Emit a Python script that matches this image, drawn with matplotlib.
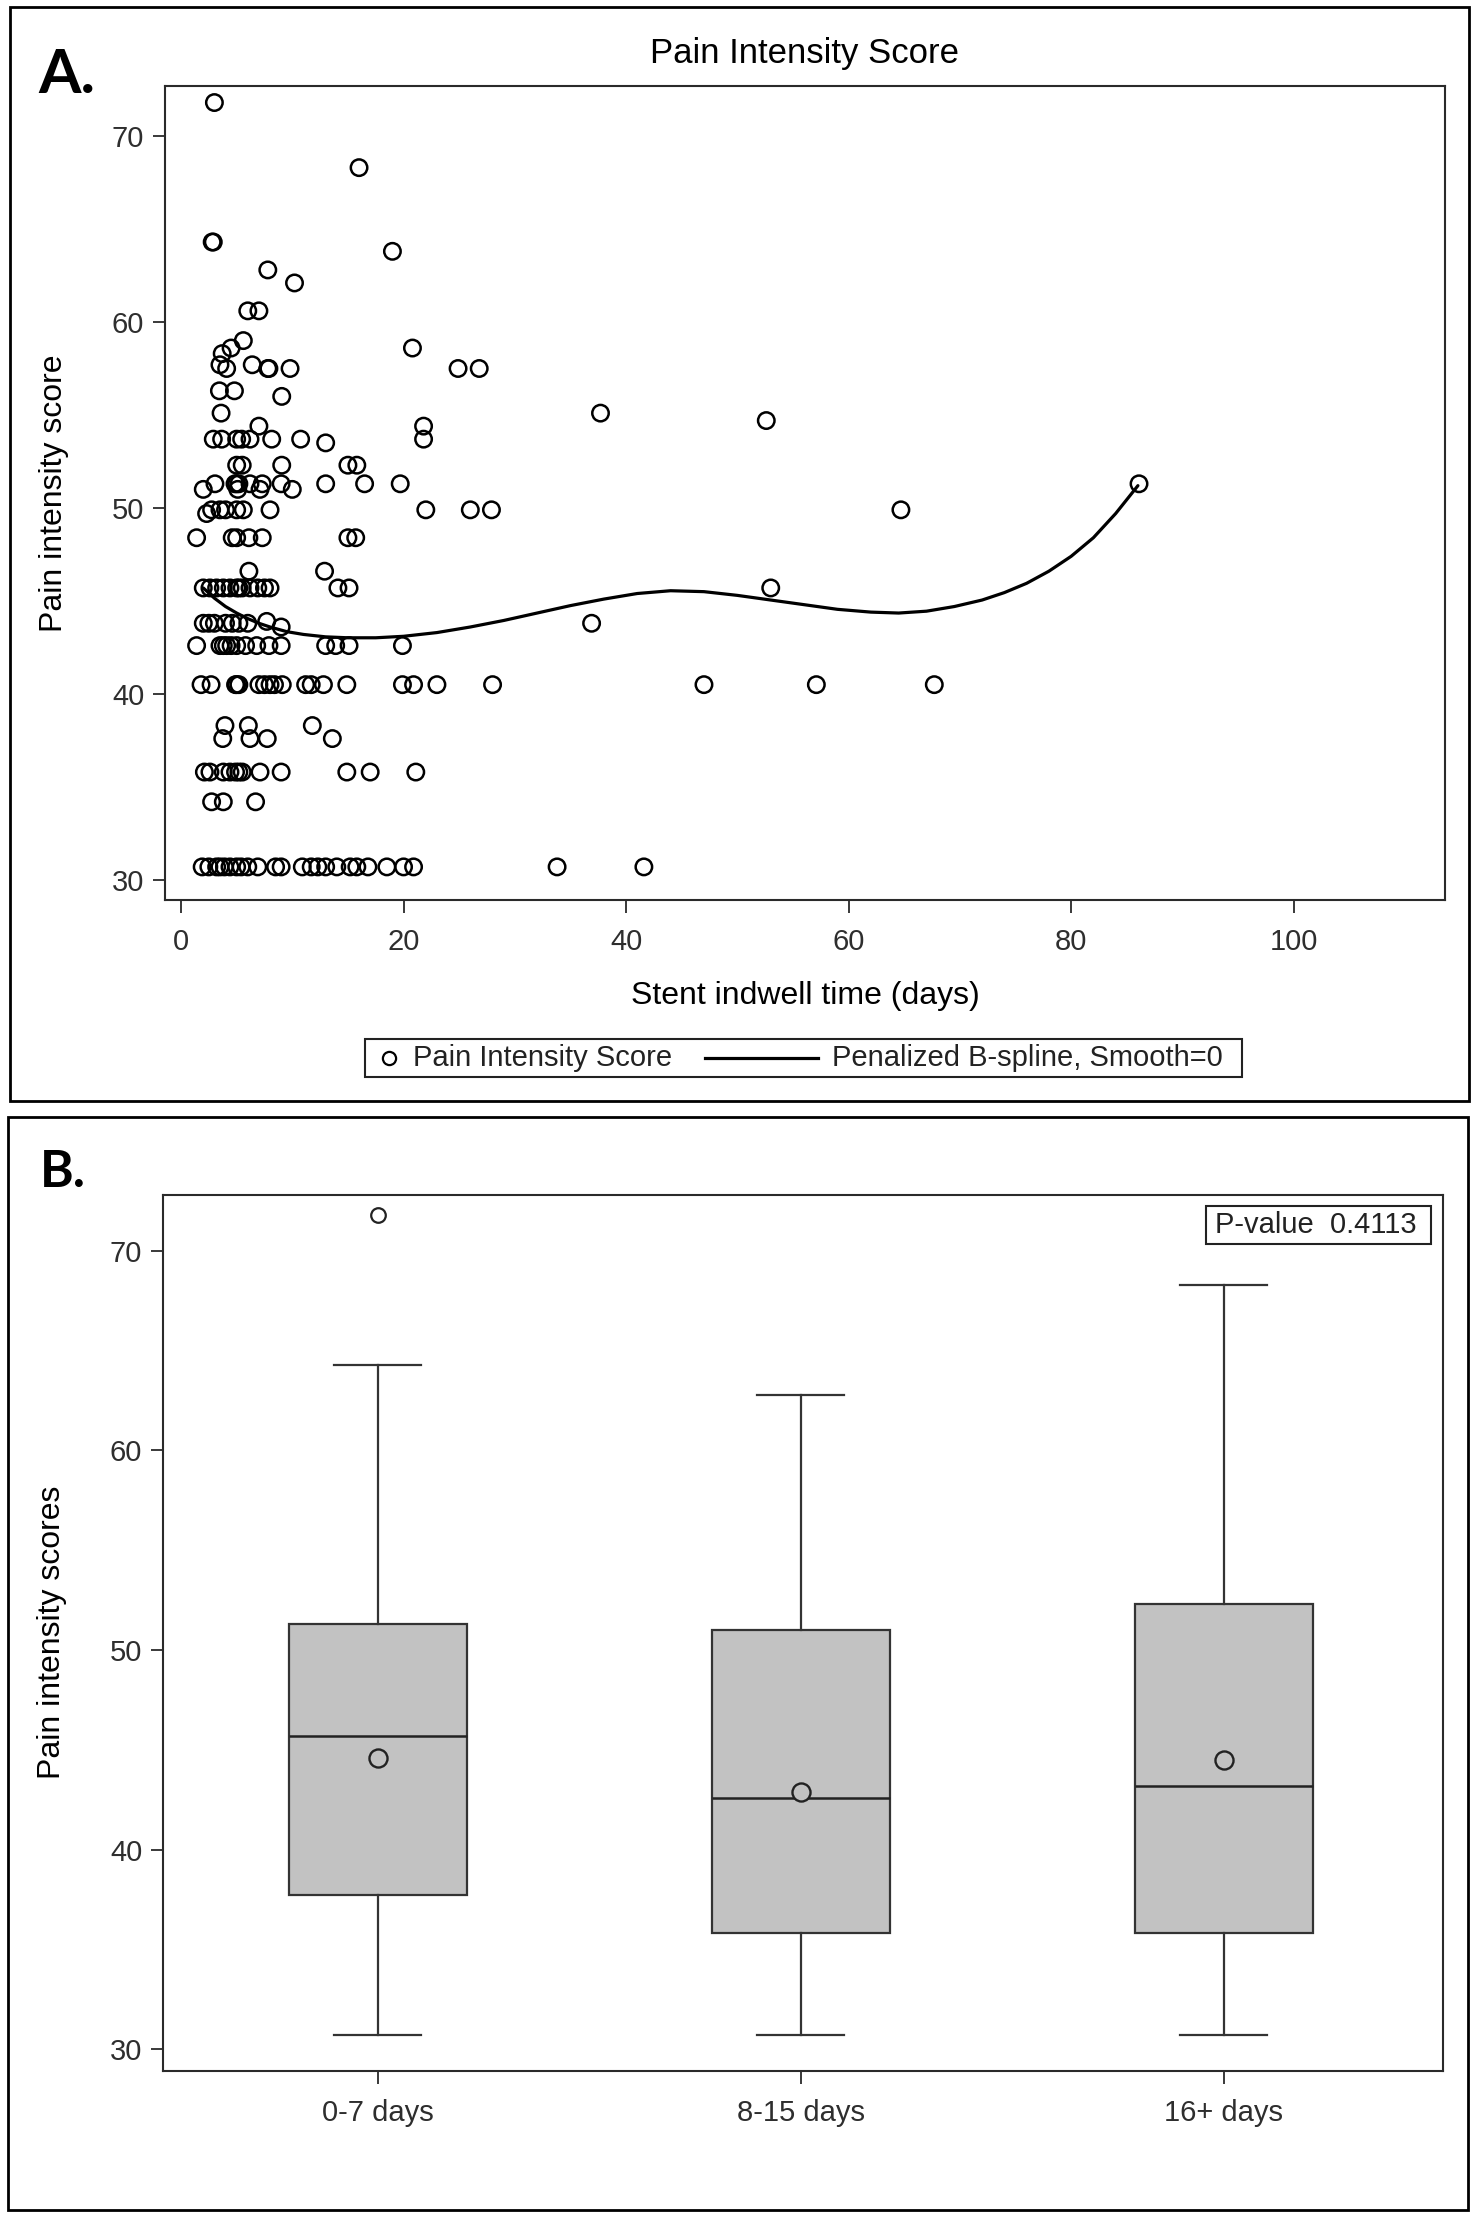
import matplotlib
matplotlib.use('Agg')
import matplotlib.pyplot as plt
from matplotlib.lines import Line2D
from matplotlib.patches import Rectangle
import numpy as np

plt.rcParams['font.family'] = ['Liberation Sans', 'DejaVu Sans']

# ---------------- Panel A data: (stent indwell days, pain intensity score) ----------------
score_rows = [71.8, 68.3, 64.3, 63.8, 62.8, 62.1, 60.6, 59.0, 58.6, 58.3, 57.7, 57.5,
              56.3, 56.0, 55.1, 54.7, 54.4, 53.7, 53.5, 52.3, 51.3, 51.0, 49.9, 49.7,
              48.4, 46.6, 45.7, 43.9, 43.8, 43.6, 42.6, 40.5, 38.3, 37.6, 35.8, 34.2, 30.7]
days_rows = [
    [3.0],
    [16.0],
    [2.8, 2.9],
    [19.0],
    [7.8],
    [10.2],
    [6.0, 7.0],
    [5.6],
    [4.5, 20.8],
    [3.7],
    [3.5, 6.4],
    [4.1, 7.8, 7.9, 9.8, 24.9, 26.8],
    [3.45, 4.8],
    [9.05],
    [3.6, 37.7],
    [52.6],
    [7.0, 21.8],
    [2.9, 3.65, 5.0, 5.45, 6.2, 8.15, 10.75, 21.8],
    [13.0],
    [5.0, 5.5, 9.05, 15.0, 15.8],
    [3.05, 4.85, 5.0, 5.2, 6.2, 7.3, 9.0, 13.0, 16.5, 19.7, 86.1],
    [2.0, 5.1, 7.1, 10.0],
    [2.75, 3.5, 4.0, 5.0, 5.6, 8.0, 22.0, 26.0, 27.9, 64.7],
    [2.3],
    [1.4, 4.6, 5.0, 6.1, 7.3, 15.0, 15.7],
    [6.1, 12.9],
    [2.0, 2.6, 3.2, 3.8, 4.4, 5.0, 5.2, 5.5, 6.2, 6.9, 7.5, 8.0, 14.1, 15.1, 53.0],
    [7.7],
    [2.0, 2.5, 3.0, 4.0, 4.6, 5.2, 6.0, 36.9],
    [9.0],
    [1.4, 3.5, 3.8, 4.1, 4.5, 5.0, 5.8, 6.8, 7.9, 9.0, 13.0, 13.9, 15.1, 19.9],
    [1.8, 2.7, 4.9, 5.0, 5.2, 7.0, 7.5, 8.0, 8.4, 9.1, 11.2, 11.7, 12.8, 14.9, 19.9,
     20.9, 23.0, 28.0, 47.0, 57.1, 67.7],
    [3.95, 6.05, 11.8],
    [3.75, 6.2, 7.75, 13.6],
    [2.1, 2.6, 3.8, 4.4, 4.9, 5.2, 5.5, 7.1, 9.0, 14.9, 17.0, 21.1],
    [2.75, 3.8, 6.7],
    [1.9, 2.5, 3.2, 3.5, 3.9, 4.4, 5.0, 5.4, 6.0, 6.9, 8.5, 9.0, 10.9, 11.7, 12.3, 13.0,
     14.0, 15.2, 15.8, 16.8, 18.5, 20.0, 20.9, 33.8, 41.6],
]

# Penalized B-spline curve
curve_days = [2.0, 3.0, 4.0, 5.0, 6.0, 7.0, 8.0, 9.5, 11.0, 13.0, 15.0, 17.5, 20.0,
              23.0, 26.0, 29.0, 32.0, 35.0, 38.0, 41.0, 44.0, 47.0, 50.0, 53.0, 56.0,
              59.0, 62.0, 64.5, 67.0, 69.5, 72.0, 74.0, 76.0, 78.0, 80.0, 82.0, 84.0, 86.0]
curve_scores = [45.7, 45.15, 44.7, 44.35, 44.05, 43.8, 43.6, 43.35, 43.2, 43.07, 43.02,
                43.02, 43.1, 43.3, 43.6, 43.95, 44.35, 44.75, 45.1, 45.4, 45.55, 45.5,
                45.3, 45.05, 44.8, 44.55, 44.4, 44.35, 44.45, 44.7, 45.05, 45.45, 45.95,
                46.6, 47.4, 48.4, 49.7, 51.2]

x_ticks_a = [0, 20, 40, 60, 80, 100]
y_ticks = [30, 40, 50, 60, 70]

# ---------------- Panel B data ----------------
groups = ['0-7 days', '8-15 days', '16+ days']
q1 = [37.7, 35.8, 35.8]
medians = [45.7, 42.6, 43.2]
q3 = [51.3, 51.0, 52.3]
whisker_low = [30.7, 30.7, 30.7]
whisker_high = [64.3, 62.8, 68.3]
means = [44.6, 42.9, 44.5]
outliers = [[71.8], [], []]
p_value = '0.4113'

# ---------------- Figure ----------------
W, H = 1478, 2219
fig = plt.figure(figsize=(W / 100, H / 100), dpi=100)


def fx(px):
    return px / W


def fy(py):
    return 1 - py / H


TICKC = '#2e2e2e'
SPINEC = '#2a2a2a'

# panel frames
for (x0, y0, x1, y1) in [(10, 7, 1469, 1101), (8, 1117, 1468, 2210)]:
    fig.add_artist(Rectangle((fx(x0), fy(y1)), fx(x1) - fx(x0), fy(y0) - fy(y1),
                             transform=fig.transFigure, fill=False,
                             edgecolor='black', linewidth=2.0))

# ---------------- Panel A ----------------
axA = fig.add_axes([fx(165), fy(900), fx(1445) - fx(165), (900 - 86) / H])
xs = [d for row in days_rows for d in row]
ys = [s for s, row in zip(score_rows, days_rows) for _ in row]
axA.scatter(xs, ys, s=140, facecolors='none', edgecolors='black', linewidths=1.8, zorder=3)
axA.plot(curve_days, curve_scores, color='black', lw=2.3, zorder=4,
         solid_joinstyle='round', solid_capstyle='round')
axA.set_xlim(-1.44, 113.6)
axA.set_ylim(28.92, 72.69)
axA.set_xticks(x_ticks_a)
axA.set_yticks(y_ticks)
axA.tick_params(axis='both', direction='out', length=9, width=1.3, colors=SPINEC,
                labelcolor=TICKC, labelsize=21)
axA.tick_params(axis='x', pad=11)
axA.tick_params(axis='y', pad=6)
for sp in axA.spines.values():
    sp.set_color(SPINEC)
    sp.set_linewidth(1.5)

fig.text(fx(805), fy(53), 'Pain Intensity Score', ha='center', va='center', fontsize=25)
fig.text(fx(805), fy(996), 'Stent indwell time (days)', ha='center', va='center', fontsize=23)
fig.text(fx(54), fy(493), 'Pain intensity score', ha='center', va='center', rotation=90,
         fontsize=23)
fig.text(fx(38), fy(93), 'A.', ha='left', va='baseline', fontsize=44, fontweight='bold',
         family=['Lato', 'Liberation Sans', 'DejaVu Sans'])

# manual legend
fig.add_artist(Rectangle((fx(365), fy(1077)), fx(1242) - fx(365), fy(1039) - fy(1077),
                         transform=fig.transFigure, fill=False, edgecolor='#222222',
                         linewidth=1.5))
fig.add_artist(Line2D([fx(389)], [fy(1058)], marker='o', markersize=9.5,
                      markerfacecolor='none', markeredgecolor='black', markeredgewidth=1.6,
                      transform=fig.transFigure))
fig.text(fx(413), fy(1058), 'Pain Intensity Score', ha='left', va='center', fontsize=21,
         color='#222222')
fig.add_artist(Line2D([fx(705), fx(818)], [fy(1058), fy(1058)], color='black', lw=2.3,
                      transform=fig.transFigure))
fig.text(fx(832), fy(1058), 'Penalized B-spline, Smooth=0', ha='left', va='center',
         fontsize=21, color='#222222')

# ---------------- Panel B ----------------
axB = fig.add_axes([fx(163), fy(2071), fx(1443) - fx(163), (2071 - 1195) / H])
stats = []
for i, g in enumerate(groups):
    stats.append(dict(label=g, q1=q1[i], med=medians[i], q3=q3[i],
                      whislo=whisker_low[i], whishi=whisker_high[i], mean=means[i],
                      fliers=np.array(outliers[i])))
axB.bxp(stats, positions=[0, 1, 2], widths=0.42, capwidths=0.206, showmeans=True,
        patch_artist=True,
        boxprops=dict(facecolor='#c2c2c2', edgecolor='#333333', linewidth=1.6),
        medianprops=dict(color='#222222', linewidth=1.8),
        whiskerprops=dict(color='#333333', linewidth=1.6),
        capprops=dict(color='#333333', linewidth=1.6),
        meanprops=dict(marker='o', markerfacecolor='#c2c2c2', markeredgecolor='#222222',
                       markersize=13, markeredgewidth=1.7),
        flierprops=dict(marker='o', markerfacecolor='none', markeredgecolor='#222222',
                        markersize=10.5, markeredgewidth=1.6))
axB.set_xlim(-0.508, 2.518)
axB.set_ylim(28.9, 72.8)
axB.set_yticks(y_ticks)
axB.set_xticks([0, 1, 2])
axB.set_xticklabels(groups)
axB.tick_params(axis='both', direction='out', length=9, width=1.3, colors=SPINEC,
                labelcolor=TICKC, labelsize=21)
axB.tick_params(axis='x', pad=11)
axB.tick_params(axis='y', pad=6)
for sp in axB.spines.values():
    sp.set_color(SPINEC)
    sp.set_linewidth(1.5)

fig.text(fx(52), fy(1632), 'Pain intensity scores', ha='center', va='center', rotation=90,
         fontsize=23)
fig.text(fx(40), fy(1187), 'B.', ha='left', va='baseline', fontsize=37, fontweight='bold',
         family=['Lato', 'Liberation Sans', 'DejaVu Sans'])

# P-value box
fig.add_artist(Rectangle((fx(1206), fy(1244)), fx(1431) - fx(1206), fy(1206) - fy(1244),
                         transform=fig.transFigure, fill=False, edgecolor='#222222',
                         linewidth=1.5))
fig.text(fx(1215), fy(1225), 'P-value  ' + p_value, ha='left', va='center', fontsize=21,
         color='#222222')

fig.savefig('out.png', dpi=100, facecolor='white')
